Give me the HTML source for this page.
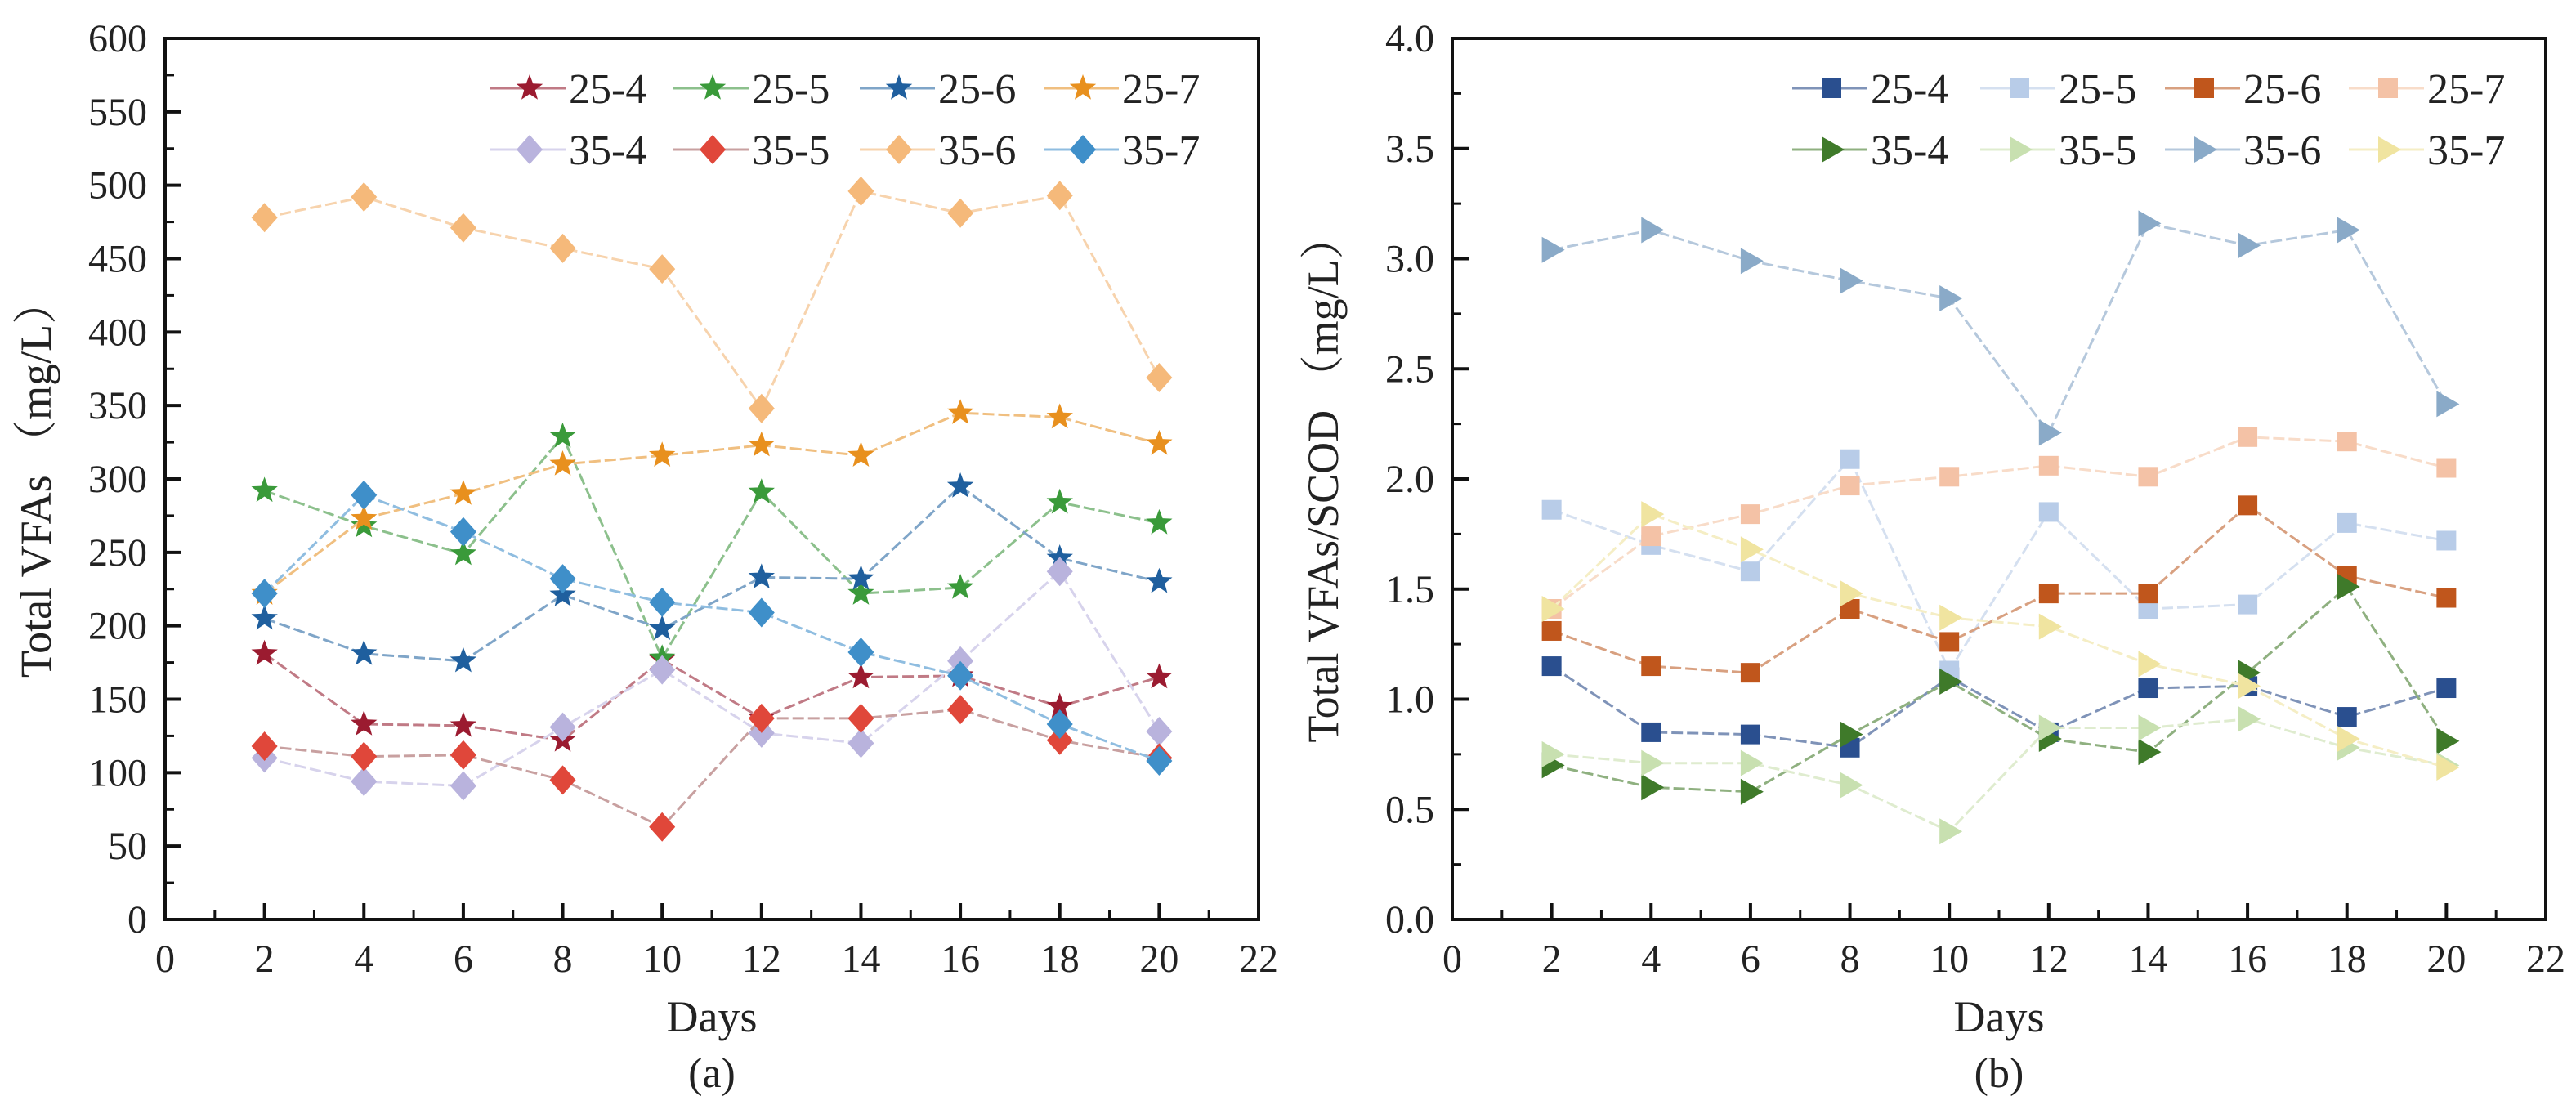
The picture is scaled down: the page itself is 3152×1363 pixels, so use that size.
<!DOCTYPE html>
<html><head><meta charset="utf-8"><style>
html,body{margin:0;padding:0;background:#fff;}
svg, svg text{font-family:"Liberation Serif","Times New Roman",serif;}
</style></head><body>
<svg id="chart" width="3152" height="1358" viewBox="0 0 3152 1358" xmlns="http://www.w3.org/2000/svg" font-family="Liberation Serif, serif"></svg>
<script>
const days = [2,4,6,8,10,12,14,16,18,20];
const xTicks = [0,2,4,6,8,10,12,14,16,18,20,22];
const yTicksA = [0,50,100,150,200,250,300,350,400,450,500,550,600];
const yTicksB = [0.0,0.5,1.0,1.5,2.0,2.5,3.0,3.5,4.0];
const namesA = ["25-4","25-5","25-6","25-7","35-4","35-5","35-6","35-7"];
const a254 = [181,133,132,122,177,137,165,166,145,165];
const a255 = [292,268,249,329,178,291,222,226,284,270];
const a256 = [205,181,176,221,198,233,232,295,246,230];
const a257 = [222,273,290,310,316,323,316,345,342,324];
const a354 = [110,94,91,131,170,127,120,176,237,128];
const a355 = [118,111,112,95,63,137,137,143,122,110];
const a356 = [478,492,471,457,443,348,496,481,493,369];
const a357 = [222,289,264,232,216,209,182,166,133,108];
const b254 = [1.15,0.85,0.84,0.78,1.10,0.85,1.05,1.06,0.92,1.05];
const b255 = [1.86,1.70,1.58,2.09,1.13,1.85,1.41,1.43,1.80,1.72];
const b256 = [1.31,1.15,1.12,1.41,1.26,1.48,1.48,1.88,1.56,1.46];
const b257 = [1.41,1.74,1.84,1.97,2.01,2.06,2.01,2.19,2.17,2.05];
const b354 = [0.70,0.60,0.58,0.84,1.08,0.82,0.76,1.12,1.51,0.81];
const b355 = [0.75,0.71,0.71,0.61,0.40,0.87,0.87,0.91,0.78,0.70];
const b356 = [3.04,3.13,2.99,2.90,2.82,2.21,3.16,3.06,3.13,2.34];
const b357 = [1.41,1.84,1.68,1.48,1.37,1.33,1.16,1.06,0.82,0.69];

const NS="http://www.w3.org/2000/svg";
const FONT='"Liberation Serif", "Noto Serif CJK SC", serif';
const svg=document.getElementById('chart');
function mk(tag,attrs,parent){const e=document.createElementNS(NS,tag);for(const k in attrs)e.setAttribute(k,attrs[k]);if(tag==='text'){e.setAttribute('font-family',FONT);e.style.fontFamily=FONT;}(parent||svg).appendChild(e);return e;}

function starPts(cx,cy,r){let p=[];for(let i=0;i<10;i++){const rr=i%2?r*0.42:r;const a=-Math.PI/2+i*Math.PI/5;p.push((cx+rr*Math.cos(a)).toFixed(1)+','+(cy+rr*Math.sin(a)).toFixed(1));}return p.join(' ');}
function marker(g,type,x,y,color,name){
  let e;
  if(type==='star'){e=mk('polygon',{points:starPts(x,y,17),fill:color},g);}
  else if(type==='diamond'){e=mk('polygon',{points:`${x},${y-18} ${x+16},${y} ${x},${y+18} ${x-16},${y}`,fill:color},g);}
  else if(type==='square'){e=mk('rect',{x:x-12,y:y-12,width:24,height:24,fill:color},g);}
  else {e=mk('polygon',{points:`${x-12},${y-16} ${x+16},${y} ${x-12},${y+16}`,fill:color},g);}
  
  
}

function panel(cfg){
  const L=cfg.left,T=47,W=1338,H=1078;
  const g=mk('g',{});
  
  
  const X=d=>L+d/22*W, Y=v=>T+H-(v/cfg.ymax)*H;
  cfg.series.forEach((s,i)=>{
    const sg=mk('g',{},g);
    
    
    const pts=days.map((d,j)=>X(d).toFixed(1)+','+Y(s[j]).toFixed(1)).join(' ');
    const pl=mk('polyline',{points:pts,fill:'none',stroke:cfg.lineColors[i],'stroke-width':3,'stroke-dasharray':'14,5'},sg);
    
    
    days.forEach((d,j)=>marker(sg,cfg.markers[i],X(d),Y(s[j]),cfg.colors[i],'point-'+cfg.names[i]));
  });
  const fr=mk('rect',{x:L,y:T,width:W,height:H,fill:'none',stroke:'#111','stroke-width':4},g);
  
  
  for(let d=0;d<=22;d++){
    const major=d%2===0;
    mk('line',{x1:X(d),x2:X(d),y1:T+H,y2:T+H-(major?20:11),stroke:'#111','stroke-width':major?4:3},g);
  }
  xTicks.forEach(t=>{
    const tx=mk('text',{x:X(t),y:T+H+64,'font-size':48,'text-anchor':'middle',fill:'#222'},g);
    tx.textContent=t;
    
    
  });
  const step=cfg.yTicks[1]-cfg.yTicks[0];
  cfg.yTicks.forEach((t,k)=>{
    mk('line',{x1:L,x2:L+20,y1:Y(t),y2:Y(t),stroke:'#111','stroke-width':4},g);
    if(k<cfg.yTicks.length-1) mk('line',{x1:L,x2:L+11,y1:Y(t+step/2),y2:Y(t+step/2),stroke:'#111','stroke-width':3},g);
    const tx=mk('text',{x:L-22,y:Y(t)+16,'font-size':48,'text-anchor':'end',fill:'#222'},g);
    tx.textContent=cfg.fmt(t);
    
    
  });
  const xt=mk('text',{x:L+W/2,y:1262,'font-size':54,'text-anchor':'middle',fill:'#222'},g);
  xt.textContent='Days';
  
  
  const cap=mk('text',{x:L+W/2,y:1330,'font-size':52,'text-anchor':'middle',fill:'#222'},g);
  cap.textContent=cfg.caption;
  
  
  const yt=mk('text',{x:0,y:0,'font-size':54,'text-anchor':'middle',fill:'#222',transform:`translate(${cfg.ytX},${T+H/2}) rotate(-90)`},g);
  yt.textContent=cfg.ytitle;
  
  
  const lg=mk('g',{},g);
  
  
  cfg.names.forEach((n,i)=>{
    const col=i%4,row=Math.floor(i/4);
    const mx=cfg.legX[col], my=row?183:108;
    const eg=mk('g',{},lg);
    
    
    mk('line',{x1:mx-48,x2:mx+44,y1:my,y2:my,stroke:cfg.lineColors[i],'stroke-width':3},eg);
    marker(eg,cfg.markers[i],mx,my,cfg.colors[i],'legend-marker');
    const tx=mk('text',{x:mx+48,y:my+18,'font-size':52,fill:'#222'},eg);
    tx.textContent=n;
  });
}

panel({id:'panel-a',left:202,ymax:600,yTicks:yTicksA,fmt:t=>String(t),caption:'(a)',ytitle:'Total VFAs （mg/L）',ytX:62,
  names:namesA,series:[a254,a255,a256,a257,a354,a355,a356,a357],
  markers:['star','star','star','star','diamond','diamond','diamond','diamond'],
  colors:['#9b1b30','#3a9a3a','#1f5f9e','#e8901e','#b9b3dd','#e0473a','#f5b97a','#3f8fc9'],
  lineColors:['#c07a85','#8cc08c','#7fa5c8','#f0bf80','#d7d3ec','#c8a0a0','#f7d3ad','#8fbde0'],
  legX:[648,872,1100,1325]});
panel({id:'panel-b',left:1777,ymax:4,yTicks:yTicksB,fmt:t=>t.toFixed(1),caption:'(b)',ytitle:'Total VFAs/SCOD （mg/L）',ytX:1637,
  names:namesA,series:[b254,b255,b256,b257,b354,b355,b356,b357],
  markers:['square','square','square','square','tri','tri','tri','tri'],
  colors:['#2a4f8f','#b8cce8','#c0561c','#f4c2a6','#3f7a2a','#c8e0b0','#8aaac8','#f0e4a0'],
  lineColors:['#7f93b8','#d5e0f0','#d8a080','#f8dcc9','#8fb080','#dfeccf','#b5c8dc','#f5eec5'],
  legX:[2241,2471,2697,2922]});
</script>
</body></html>
